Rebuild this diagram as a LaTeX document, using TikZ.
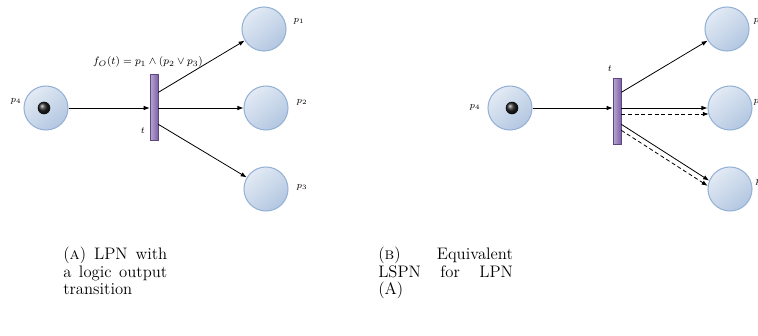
\documentclass[tikz,border=0pt]{standalone}
\usepackage{amsmath,amssymb}
\usepackage{xcolor}
\usetikzlibrary{arrows.meta,positioning}
\definecolor{placefill}{HTML}{E2EAF4}
\definecolor{placeshade}{HTML}{B3C7E1}
\definecolor{placeedge}{HTML}{96B2D6}
\definecolor{translight}{HTML}{B9A8D3}
\definecolor{transdark}{HTML}{7E61A6}
\definecolor{transedge}{HTML}{5E4880}

\begin{document}
\begin{tikzpicture}[x=0.75pt,y=-0.75pt,
    place/.style={circle,minimum size=33pt,inner sep=0pt,draw=placeedge,line width=0.8pt,
      top color=placefill,bottom color=placeshade,shading=axis,shading angle=40},
    trans/.style={rectangle,minimum width=6pt,minimum height=49.5pt,inner sep=0pt,
      draw=transedge,line width=0.5pt,left color=translight,right color=transdark},
    token/.style={circle,minimum size=9pt,inner sep=0pt,ball color=black!85,draw=black},
    lbl/.style={inner sep=1pt,font=\fontsize{7.5}{9}\selectfont},
    arc/.style={-{Latex[length=4.5pt,width=3.4pt]},line width=0.6pt,black},
    dasharc/.style={arc,dash pattern=on 3pt off 2pt},
    capt/.style={anchor=north west,inner sep=0pt,align=justify,font=\fontsize{12.5}{13.2}\selectfont}]
  \useasboundingbox (0,0) rectangle (758,336);

  % (a) LPN with a logic output transition
  \node[place] (a4) at (46,108) {};
  \node[token] (atok) at (44,108) {};
  \node[trans] (at) at (154,107) {};
  \node[place] (a1) at (264,29) {};
  \node[place] (a2) at (266,108) {};
  \node[place] (a3) at (266,189) {};
  \node[lbl,anchor=east] (la4) at (23,101) {$p_4$};
  \node[lbl,anchor=west] (la1) at (292,21) {$p_1$};
  \node[lbl,anchor=west] (la2) at (295,102) {$p_2$};
  \node[lbl,anchor=west] (la3) at (295,187) {$p_3$};
  \node[lbl] (lat) at (143,131) {$t$};
  \node[lbl,font=\fontsize{8}{9.6}\selectfont] (lfo) at (148,62) {$f_O(t) = p_1 \wedge (p_2 \vee p_3)$};
  \draw[arc] (a4) -- (at.west |- a4);
  \draw[arc] ([yshift=11pt]at.east) -- (a1);
  \draw[arc] (at.east |- a2) -- (a2);
  \draw[arc] ([yshift=-13pt]at.east) -- (a3);

  % (b) equivalent LSPN
  \node[place] (b4) at (510,108) {};
  \node[token] (btok) at (512,108) {};
  \node[trans] (bt) at (617,111) {};
  \node[place] (b1) at (727,29) {};
  \node[place] (b2) at (730,108) {};
  \node[place] (b3) at (730,189) {};
  \node[lbl,anchor=east] (lb4) at (482,107) {$p_4$};
  \node[lbl,anchor=west] (lb1) at (752,21) {$p_1$};
  \node[lbl,anchor=west] (lb2) at (752,102) {$p_2$};
  \node[lbl,anchor=west] (lb3) at (754,182) {$p_3$};
  \node[lbl] (lbt) at (610,69) {$t$};
  \draw[arc] (b4) -- (bt.west |- b4);
  \draw[arc] ([yshift=14pt]bt.east) -- (b1);
  \draw[arc] (bt.east |- b2) -- (b2);
  \draw[dasharc] ([yshift=-4.5pt]bt.east |- b2) -- ([yshift=-4.5pt,xshift=1pt]b2.west);
  \draw[arc] ([yshift=-10pt]bt.east) -- (b3.158);
  \draw[dasharc] ([yshift=-14.5pt]bt.east) -- (b3.172);

  % captions
  \node[capt,text width=78pt] (capa) at (63,247) {(\textsc{a}) LPN with\linebreak a logic output\linebreak transition};
  \node[capt,text width=101pt] (capb) at (378,247) {(\textsc{b}) Equivalent\linebreak LSPN for LPN\linebreak (A)};
\end{tikzpicture}
\end{document}
